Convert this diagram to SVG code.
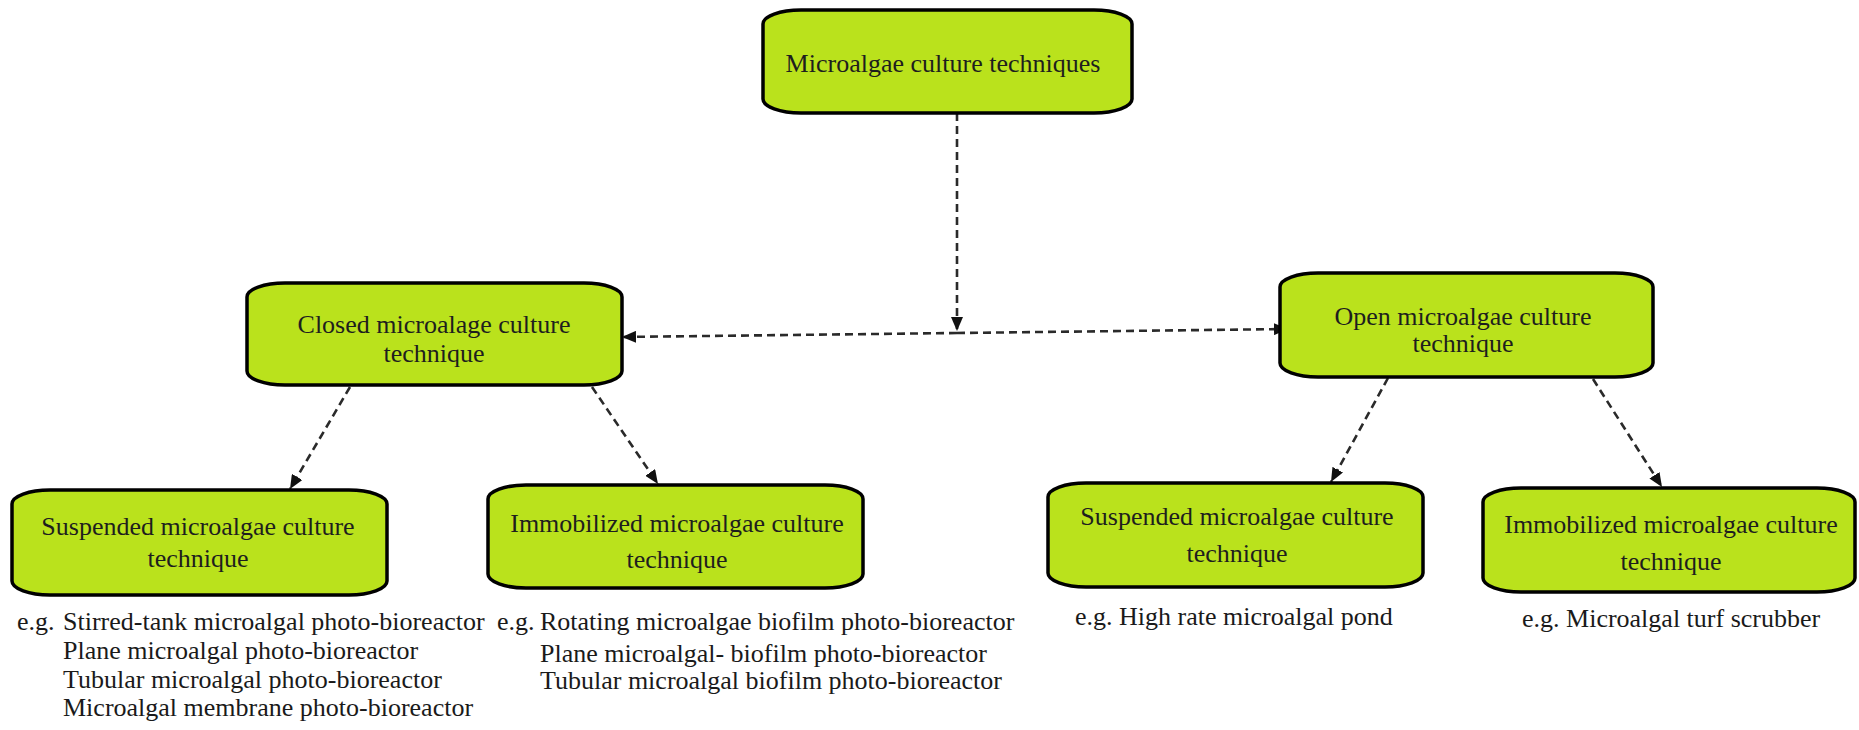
<svg xmlns="http://www.w3.org/2000/svg" width="1859" height="730" viewBox="0 0 1859 730">
<style>
.box{fill:#bae21c;stroke:#000;stroke-width:3.5}
.nt{font-family:"Liberation Serif","Times New Roman",serif;font-size:26px;fill:#1e1e1e;text-anchor:middle}
.ex{font-family:"Liberation Serif","Times New Roman",serif;font-size:26px;fill:#1a1a1a}
.con{stroke:#2a2a2a;stroke-width:2.6;stroke-dasharray:8 5;fill:none;marker-end:url(#arr)}
</style>
<defs>
<marker id="arr" markerUnits="userSpaceOnUse" markerWidth="14" markerHeight="12" viewBox="0 0 14 12" refX="14" refY="6" orient="auto">
<path d="M0,0 L14,6 L0,12 Z" fill="#111"/>
</marker>
</defs>
<rect width="1859" height="730" fill="#fff"/>
<g id="connectors">
<line class="con" x1="957" y1="113" x2="957" y2="331"/>
<line class="con" x1="957" y1="333" x2="622" y2="337"/>
<line class="con" x1="957" y1="333" x2="1288" y2="329"/>
<line class="con" x1="350" y1="387" x2="290" y2="489"/>
<line class="con" x1="592" y1="387" x2="658" y2="484"/>
<line class="con" x1="1388" y1="378" x2="1331" y2="482"/>
<line class="con" x1="1593" y1="379" x2="1662" y2="487"/>
</g>
<g id="n-root">
<path class="box" d="M801,10 H1094 A38 14 0 0 1 1132,24 V99 A38 14 0 0 1 1094,113 H801 A38 14 0 0 1 763,99 V24 A38 14 0 0 1 801,10 Z"/>
<text class="nt" x="943" y="72">Microalgae culture techniques</text>
</g>
<g id="n-closed">
<path class="box" d="M285,283 H584 A38 14 0 0 1 622,297 V371 A38 14 0 0 1 584,385 H285 A38 14 0 0 1 247,371 V297 A38 14 0 0 1 285,283 Z"/>
<text class="nt" x="434" y="333">Closed microalage culture</text>
<text class="nt" x="434" y="362">technique</text>
</g>
<g id="n-open">
<path class="box" d="M1318,273 H1615 A38 14 0 0 1 1653,287 V363 A38 14 0 0 1 1615,377 H1318 A38 14 0 0 1 1280,363 V287 A38 14 0 0 1 1318,273 Z"/>
<text class="nt" x="1463" y="325">Open microalgae culture</text>
<text class="nt" x="1463" y="352">technique</text>
</g>
<g id="n-susp1">
<path class="box" d="M50,490 H349 A38 14 0 0 1 387,504 V581 A38 14 0 0 1 349,595 H50 A38 14 0 0 1 12,581 V504 A38 14 0 0 1 50,490 Z"/>
<text class="nt" x="198" y="535">Suspended microalgae culture</text>
<text class="nt" x="198" y="567">technique</text>
</g>
<g id="n-immob1">
<path class="box" d="M526,485 H825 A38 14 0 0 1 863,499 V574 A38 14 0 0 1 825,588 H526 A38 14 0 0 1 488,574 V499 A38 14 0 0 1 526,485 Z"/>
<text class="nt" x="677" y="532">Immobilized microalgae culture</text>
<text class="nt" x="677" y="568">technique</text>
</g>
<g id="n-susp2">
<path class="box" d="M1086,483 H1385 A38 14 0 0 1 1423,497 V573 A38 14 0 0 1 1385,587 H1086 A38 14 0 0 1 1048,573 V497 A38 14 0 0 1 1086,483 Z"/>
<text class="nt" x="1237" y="525">Suspended microalgae culture</text>
<text class="nt" x="1237" y="562">technique</text>
</g>
<g id="n-immob2">
<path class="box" d="M1521,488 H1817 A38 14 0 0 1 1855,502 V578 A38 14 0 0 1 1817,592 H1521 A38 14 0 0 1 1483,578 V502 A38 14 0 0 1 1521,488 Z"/>
<text class="nt" x="1671" y="533">Immobilized microalgae culture</text>
<text class="nt" x="1671" y="570">technique</text>
</g>
<g id="examples">
<text class="ex" x="17" y="630">e.g.</text>
<text class="ex" x="63" y="630">Stirred-tank microalgal photo-bioreactor</text>
<text class="ex" x="63" y="659">Plane microalgal photo-bioreactor</text>
<text class="ex" x="63" y="688">Tubular microalgal photo-bioreactor</text>
<text class="ex" x="63" y="716">Microalgal membrane photo-bioreactor</text>
<text class="ex" x="497" y="630">e.g.</text>
<text class="ex" x="540" y="630">Rotating microalgae biofilm photo-bioreactor</text>
<text class="ex" x="540" y="662">Plane microalgal- biofilm photo-bioreactor</text>
<text class="ex" x="540" y="689">Tubular microalgal biofilm photo-bioreactor</text>
<text class="ex" x="1075" y="625">e.g. High rate microalgal pond</text>
<text class="ex" x="1522" y="627">e.g. Microalgal turf scrubber</text>
</g>
</svg>
